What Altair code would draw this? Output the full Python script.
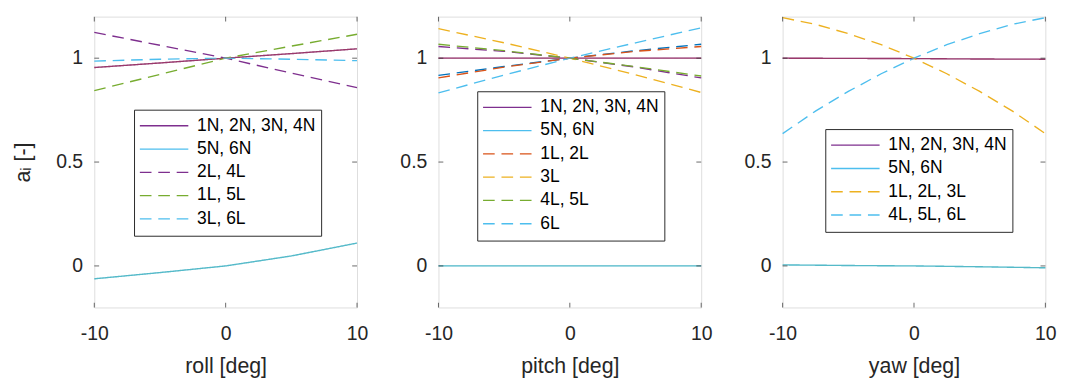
import altair as alt
import pandas as pd

FONT = "Liberation Sans"
TXT = "#262626"

PURPLE = "#7E2F8E"
CYAN = "#4DBEEE"
ORANGE = "#D95319"
YELLOW = "#EDB120"
GREEN = "#77AC30"
BLUE = "#0072BD"

# ---------------- data ----------------
x5 = [-10, -5, 0, 5, 10]
x9 = [-10, -7.5, -5, -2.5, 0, 2.5, 5, 7.5, 10]

# roll
roll_N1234 = [0.955, 0.977, 1.0, 1.022, 1.045]
roll_N56 = [-0.062, -0.032, 0.0, 0.048, 0.11]
roll_L24 = [1.124, 1.062, 1.0, 0.928, 0.858]
roll_L15 = [0.844, 0.922, 1.0, 1.058, 1.115]
roll_L36 = [0.986, 0.995, 1.0, 0.995, 0.988]

# pitch
pitch_N1234 = [1.0, 1.0, 1.0, 1.0, 1.0]
pitch_N56 = [0.0, 0.0, 0.0, 0.0, 0.0]
pitch_L12 = [0.905, 0.957, 1.0, 1.033, 1.056]
pitch_L3 = [1.142, 1.074, 1.0, 0.920, 0.835]
pitch_L45 = [1.067, 1.036, 1.0, 0.959, 0.914]
pitch_L6 = [0.833, 0.919, 1.0, 1.074, 1.146]
pitch_L1_under = [0.917, 0.960, 1.0, 1.036, 1.067]
pitch_L4_under = [1.056, 1.033, 1.0, 0.957, 0.905]

# yaw
yaw_N1234 = [1.0, 0.999, 0.998, 0.996, 0.995]
yaw_N56 = [0.005, 0.002, 0.0, -0.004, -0.009]
yaw_L123 = [1.195, 1.163, 1.118, 1.065, 1.0, 0.925, 0.84, 0.745, 0.637]
yaw_L456 = [0.637, 0.745, 0.84, 0.925, 1.0, 1.065, 1.118, 1.163, 1.195]

roll_names = ["1N, 2N, 3N, 4N", "5N, 6N", "2L, 4L", "1L, 5L", "3L, 6L"]
pitch_names = ["1N, 2N, 3N, 4N", "5N, 6N", "1L, 2L", "3L", "4L, 5L", "6L"]
yaw_names = ["1N, 2N, 3N, 4N", "5N, 6N", "1L, 2L, 3L", "4L, 5L, 6L"]

x_ticks = [-10, 0, 10]
y_ticks = [0, 0.5, 1]

W, H = 271, 300
LW = 1.4
SOLID = [1, 0]
DASH = [12, 7]


def long_df(series):
    rows = []
    for name, xs, vals in series:
        for xv, yv in zip(xs, vals):
            rows.append({"x": xv, "a": yv, "series": name})
    return pd.DataFrame(rows)


def panel(main_series, domain, colors, dashes, under, over, xtitle, ytitle, lx, ly):
    xs = alt.Scale(domain=[-10, 10], nice=False, zero=False)
    ys = alt.Scale(domain=[-0.2, 1.2], nice=False, zero=False)
    common = dict(ticks=False, tickSize=0, domain=False, grid=False, labelFlush=False,
                  labelFontSize=20, labelFont=FONT, labelColor=TXT,
                  labelExpr="'' + datum.value",
                  titleFontSize=22, titleFont=FONT, titleColor=TXT, titleFontWeight="normal")
    xax = alt.Axis(values=x_ticks, title=xtitle, labelPadding=17, titlePadding=13, **common)
    yax = alt.Axis(values=y_ticks, title=ytitle, labelPadding=12, titlePadding=22, **common)

    X = alt.X("x:Q", scale=xs, axis=xax)
    Y = alt.Y("a:Q", scale=ys, axis=yax)

    layers = []
    for name, xs_, vals, col, dash, op in under:
        layers.append(
            alt.Chart(long_df([(name, xs_, vals)])).mark_line(
                strokeWidth=LW, strokeDash=dash, color=col, opacity=op)
            .encode(x=X, y=Y)
        )

    leg = alt.Legend(orient="none", legendX=lx, legendY=ly, title=None,
                     symbolType="stroke", symbolSize=2500, symbolStrokeWidth=1.4,
                     clipHeight=23.2, rowPadding=0, labelFontSize=18, labelFont=FONT,
                     labelColor="#000000", labelOffset=8, padding=5,
                     strokeColor=TXT, fillColor="#ffffff", cornerRadius=0)
    main = alt.Chart(long_df(main_series)).mark_line(strokeWidth=LW).encode(
        x=X, y=Y,
        color=alt.Color("series:N", scale=alt.Scale(domain=domain, range=colors), legend=leg),
        strokeDash=alt.StrokeDash("series:N", scale=alt.Scale(domain=domain, range=dashes), legend=leg),
    )
    layers.append(main)

    for name, xs_, vals, col, dash, op in over:
        layers.append(
            alt.Chart(long_df([(name, xs_, vals)])).mark_line(
                strokeWidth=LW, strokeDash=dash, color=col, opacity=op)
            .encode(x=X, y=Y)
        )

    xt = pd.DataFrame({"x": x_ticks})
    yt = pd.DataFrame({"a": y_ticks})
    tick_style = dict(color=TXT, thickness=1, size=5)
    layers.append(alt.Chart(xt).mark_tick(**tick_style).encode(x=X, y=alt.value(H - 2.5)))
    layers.append(alt.Chart(xt).mark_tick(**tick_style).encode(x=X, y=alt.value(2.5)))
    layers.append(alt.Chart(yt).mark_tick(**tick_style).encode(y=Y, x=alt.value(2.5)))
    layers.append(alt.Chart(yt).mark_tick(**tick_style).encode(y=Y, x=alt.value(W - 2.5)))

    return alt.layer(*layers).properties(width=W, height=H).resolve_scale(
        color="independent", strokeDash="independent")


p1 = panel(
    [(roll_names[0], x5, roll_N1234), (roll_names[1], x5, roll_N56),
     (roll_names[2], x5, roll_L24), (roll_names[3], x5, roll_L15), (roll_names[4], x5, roll_L36)],
    roll_names, [PURPLE, CYAN, PURPLE, GREEN, CYAN], [SOLID, SOLID, DASH, DASH, DASH],
    [],
    [("o1", x5, roll_N1234, ORANGE, SOLID, 0.3), ("o2", x5, roll_N56, GREEN, SOLID, 0.2)],
    "roll [deg]", "aᵢ [-]", 41, 96)

p2 = panel(
    [(pitch_names[0], x5, pitch_N1234), (pitch_names[1], x5, pitch_N56),
     (pitch_names[2], x5, pitch_L12), (pitch_names[3], x5, pitch_L3),
     (pitch_names[4], x5, pitch_L45), (pitch_names[5], x5, pitch_L6)],
    pitch_names, [PURPLE, CYAN, ORANGE, YELLOW, GREEN, CYAN],
    [SOLID, SOLID, DASH, DASH, DASH, DASH],
    [("u1", x5, pitch_L1_under, BLUE, DASH, 1.0), ("u2", x5, pitch_L4_under, PURPLE, DASH, 1.0)],
    [("o1", x5, pitch_N1234, ORANGE, SOLID, 0.3), ("o2", x5, pitch_N56, GREEN, SOLID, 0.2)],
    "pitch [deg]", None, 40, 77)

p3 = panel(
    [(yaw_names[0], x5, yaw_N1234), (yaw_names[1], x5, yaw_N56),
     (yaw_names[2], x9, yaw_L123), (yaw_names[3], x9, yaw_L456)],
    yaw_names, [PURPLE, CYAN, YELLOW, CYAN], [SOLID, SOLID, DASH, DASH],
    [],
    [("o1", x5, yaw_N1234, ORANGE, SOLID, 0.3), ("o2", x5, yaw_N56, GREEN, SOLID, 0.2)],
    "yaw [deg]", None, 44, 116)

chart = alt.hconcat(p1, p2, p3, spacing=31).resolve_scale(
    color="independent", strokeDash="independent"
).properties(
    padding={"left": 3, "top": 0, "right": 0, "bottom": 0}
).configure_view(stroke=TXT, strokeWidth=1).configure(background="white")

chart.save("out.html", embed_options={"renderer": "svg", "actions": False})
